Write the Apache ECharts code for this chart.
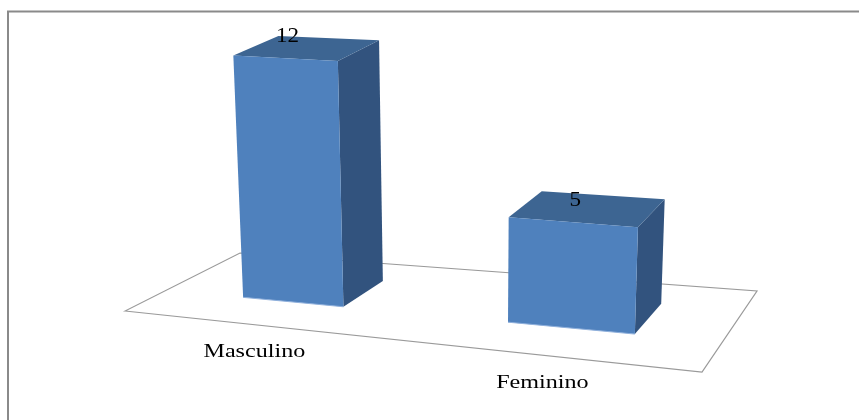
<!DOCTYPE html>
<html>
<head>
<meta charset="utf-8">
<script src="https://cdn.jsdelivr.net/npm/echarts@6/dist/echarts.min.js"></script>
<style>
  html, body { margin: 0; padding: 0; background: #ffffff; }
  #chart { width: 859px; height: 420px; }
</style>
</head>
<body>
<div id="chart"></div>
<script>
// Data
const categories = ['Masculino', 'Feminino'];
const counts = [12, 5];
const valueMax = 14;

// Perspective floor: front-left, front-right, back-right, back-left
const floorQuad = [[125, 311], [702, 372], [757, 291], [240, 253]];
const uStart = 0.02, uEnd = 1.02;      // category span across the floor
const depthFront = 0.33, depthBack = 0.73;
const barFrac = 0.406;                 // bar width as share of a category band
const vanishX = 472, leanRate = 0.000177;
const heightPersp = 0.35;

const colors = {
  front: '#4f81bd',
  side: '#32537e',
  top: '#3d6592',
  floor: '#9a9a9a',
  frame: '#8a8a8a'
};

// Square-to-quad homography (unit square -> floor quad)
function makeHomography(q) {
  const [x0, y0] = q[0], [x1, y1] = q[1], [x2, y2] = q[2], [x3, y3] = q[3];
  const dx1 = x1 - x2, dx2 = x3 - x2, dx3 = x0 - x1 + x2 - x3;
  const dy1 = y1 - y2, dy2 = y3 - y2, dy3 = y0 - y1 + y2 - y3;
  const det = dx1 * dy2 - dx2 * dy1;
  const g = (dx3 * dy2 - dx2 * dy3) / det;
  const h = (dx1 * dy3 - dx3 * dy1) / det;
  return {
    a: x1 - x0 + g * x1, b: x3 - x0 + h * x3, c: x0,
    d: y1 - y0 + g * y1, e: y3 - y0 + h * y3, f: y0,
    g: g, h: h
  };
}
const H = makeHomography(floorQuad);

// Project a floor position (u, v) raised by hpx pixels of height
function project(u, v, hpx) {
  const X = H.a * u + H.b * v + H.c;
  const Y = H.d * u + H.e * v + H.f;
  const W = H.g * u + H.h * v + 1;
  const bx = X / W, by = Y / W;
  const hh = hpx * Math.pow(1 / W, heightPersp);
  return [bx + (bx - vanishX) * leanRate * hh, by - hh];
}

function renderFloor() {
  return {
    type: 'polygon',
    shape: { points: floorQuad },
    style: { fill: '#ffffff', stroke: colors.floor, lineWidth: 1.2 }
  };
}

function renderBar(params, api) {
  const cs = params.coordSys;
  const idx = api.value(0);
  const val = api.value(1);
  const top = api.coord([idx, val]);
  const base = api.coord([idx, 0]);
  const band = api.size([1, 0])[0];
  const hpx = base[1] - top[1];
  const toU = gx => uStart + (gx - cs.x) / cs.width * (uEnd - uStart);
  const half = band * barFrac / 2;
  const u0 = toU(base[0] - half), u1 = toU(base[0] + half), uc = toU(base[0]);

  const FLb = project(u0, depthFront, 0), FRb = project(u1, depthFront, 0);
  const BRb = project(u1, depthBack, 0);
  const FLt = project(u0, depthFront, hpx), FRt = project(u1, depthFront, hpx);
  const BRt = project(u1, depthBack, hpx), BLt = project(u0, depthBack, hpx);

  const labelPos = [(FLt[0] + FRt[0]) / 2 + 2, (FLt[1] + FRt[1]) / 2 - 22];
  const catPos = project(uc, 0, 0);

  return {
    type: 'group',
    children: [
      { type: 'polygon', shape: { points: [FRt, BRt, BRb, FRb] },
        style: { fill: colors.side } },
      { type: 'polygon', shape: { points: [FLt, FRt, BRt, BLt] },
        style: { fill: colors.top } },
      { type: 'polygon', shape: { points: [FLt, FRt, FRb, FLb] },
        style: { fill: colors.front } },
      { type: 'polyline', shape: { points: [FLb, FRb] },
        style: { stroke: '#8fb0dc', lineWidth: 1, fill: null } },
      { type: 'text', x: labelPos[0], y: labelPos[1], scaleX: 1.1, z2: 10,
        style: { text: String(counts[idx]), x: 0, y: 0, align: 'center', verticalAlign: 'middle',
                 font: '21px "Liberation Serif", serif', fill: '#000000' } },
      { type: 'text', x: catPos[0], y: catPos[1] + 28, scaleX: 1.34, z2: 10,
        style: { text: categories[idx], x: 0, y: 0, align: 'center', verticalAlign: 'middle',
                 font: '18px "Liberation Serif", serif', fill: '#000000' } }
    ]
  };
}

const chart = echarts.init(document.getElementById('chart'), null, { renderer: 'canvas' });
chart.setOption({
  animation: false,
  backgroundColor: '#ffffff',
  grid: { left: 100, right: 100, top: 20, height: 283 },
  xAxis: { type: 'category', data: categories, show: false },
  yAxis: { type: 'value', min: 0, max: valueMax, show: false },
  graphic: [
    { type: 'line', shape: { x1: 7, y1: 11.5, x2: 859, y2: 11.5 },
      style: { stroke: colors.frame, lineWidth: 2 }, z: 0 },
    { type: 'line', shape: { x1: 8, y1: 11, x2: 8, y2: 420 },
      style: { stroke: colors.frame, lineWidth: 2 }, z: 0 }
  ],
  series: [
    { type: 'custom', z: 1, renderItem: renderFloor, data: [[0, 0]], silent: true },
    { type: 'custom', z: 2, renderItem: renderBar,
      data: categories.map((c, i) => [i, counts[i]]), silent: true }
  ]
});
</script>
</body>
</html>
